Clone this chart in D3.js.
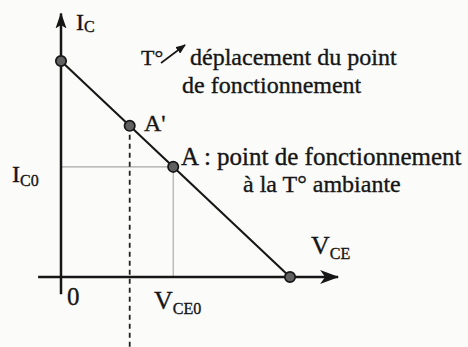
<!DOCTYPE html>
<html>
<head>
<meta charset="utf-8">
<script src="https://cdn.jsdelivr.net/npm/d3@7/dist/d3.min.js"></script>
<style>
  html, body { margin: 0; padding: 0; background: #fbfbfa; }
  svg { display: block; }
</style>
</head>
<body>
<svg id="chart" width="468" height="347"></svg>
<script>
// Load line of a transistor stage: I_C against V_CE (arbitrary units)
const loadLineVce = [0, 10];          // V_CE at the two ends of the load line
const loadLineIc = [10, 0];           // I_C at the two ends of the load line
const pointNames = ["A'", "A"];       // operating points
const pointVce = [3.0, 4.9];          // V_CE of each operating point
const pointIc = [7.0, 5.1];           // I_C of each operating point
const xAxisSpan = [-1.0, 12.1];       // drawn extent of the V_CE axis
const yAxisSpan = [-0.8, 12.2];       // drawn extent of the I_C axis
const tickLabels = ["0", "V", "CE0"]; // origin and V_CE0 labels

const W = 468, H = 347;
const FONT = "'Liberation Serif', 'Times New Roman', serif";
const INK = "#161616";
const svg = d3.select("#chart");

const x = d3.scaleLinear().domain([0, 10]).range([61, 290]);
const y = d3.scaleLinear().domain([0, 10]).range([277, 61]);

const defs = svg.append("defs");
// filled arrowhead for the I_C axis
defs.append("marker")
  .attr("id", "arrowY").attr("viewBox", "0 0 12 16")
  .attr("refX", 6).attr("refY", 1)
  .attr("markerWidth", 12).attr("markerHeight", 16)
  .attr("markerUnits", "userSpaceOnUse").attr("orient", "0")
  .append("path").attr("d", "M6,0 L11.5,16 L6,12.5 L0.5,16 Z").attr("fill", INK);
// stealth-style arrowhead for the V_CE axis
defs.append("marker")
  .attr("id", "arrowX").attr("viewBox", "0 0 19 14")
  .attr("refX", 18).attr("refY", 7)
  .attr("markerWidth", 19).attr("markerHeight", 14)
  .attr("markerUnits", "userSpaceOnUse").attr("orient", "auto")
  .append("path").attr("d", "M0,0 L19,7 L0,14 L5,7 Z").attr("fill", INK);
// small arrow used inside the temperature note
defs.append("marker")
  .attr("id", "arrowT").attr("viewBox", "0 0 10 8")
  .attr("refX", 9).attr("refY", 4)
  .attr("markerWidth", 10).attr("markerHeight", 8)
  .attr("markerUnits", "userSpaceOnUse").attr("orient", "auto")
  .append("path").attr("d", "M0,0 L10,4 L0,8 Z").attr("fill", INK);

// guide lines from A to both axes
const iA = pointNames.indexOf("A");
svg.append("path")
  .attr("d", `M${x(0)},${y(pointIc[iA])} H${x(pointVce[iA])} V${y(0)}`)
  .attr("fill", "none").attr("stroke", "#a8a8a8").attr("stroke-width", 1.1);

// dashed vertical line through A'
const iA2 = pointNames.indexOf("A'");
svg.append("line")
  .attr("x1", x(pointVce[iA2])).attr("x2", x(pointVce[iA2]))
  .attr("y1", y(pointIc[iA2])).attr("y2", H)
  .attr("stroke", "#222").attr("stroke-width", 1.8)
  .attr("stroke-dasharray", "5,4");

// axes
svg.append("line")
  .attr("x1", x(0)).attr("x2", x(0))
  .attr("y1", y(yAxisSpan[0])).attr("y2", y(yAxisSpan[1]))
  .attr("stroke", INK).attr("stroke-width", 2.5)
  .attr("marker-end", "url(#arrowY)");
svg.append("line")
  .attr("x1", x(xAxisSpan[0])).attr("x2", x(xAxisSpan[1]))
  .attr("y1", y(0)).attr("y2", y(0))
  .attr("stroke", INK).attr("stroke-width", 2.5)
  .attr("marker-end", "url(#arrowX)");

// load line
const line = d3.line().x(d => x(d[0])).y(d => y(d[1]));
const loadPts = loadLineVce.map((v, i) => [v, loadLineIc[i]]);
svg.append("path")
  .attr("d", line(loadPts))
  .attr("fill", "none").attr("stroke", INK).attr("stroke-width", 2.1);

// points: load line ends and operating points
const allPts = loadPts.concat(pointVce.map((v, i) => [v, pointIc[i]]));
svg.selectAll("circle.pt").data(allPts).join("circle")
  .attr("class", "pt")
  .attr("cx", d => x(d[0])).attr("cy", d => y(d[1]))
  .attr("r", 5.2)
  .attr("fill", "#606060").attr("stroke", INK).attr("stroke-width", 1.7);

// text helper: main text with an optional subscript (slightly heavy ink)
function label(px, py, size, main, sub, subSize, subDy) {
  const t = svg.append("text")
    .attr("x", px).attr("y", py)
    .attr("font-family", FONT).attr("font-size", size)
    .attr("fill", INK).attr("stroke", INK).attr("stroke-width", 0.35);
  t.append("tspan").text(main);
  if (sub) {
    t.append("tspan").attr("dy", subDy).attr("font-size", subSize).text(sub);
  }
  return t;
}

// axis titles
label(76, 30, 24, "I", "C", 16, 2);
label(311, 254, 26, "V", "CE", 16, 5);

// I_C0 label
label(12, 182, 24, "I", "C0", 16, 4);

// origin and V_CE0 labels
label(67, 305, 25, tickLabels[0]);
label(154, 309, 26, tickLabels[1], tickLabels[2], 16, 5);

// point labels
label(144, 131, 24, "A'");
label(181, 165, 25, "A : point de fonctionnement");
label(243, 192, 24, "à la T° ambiante");

// temperature note
label(141, 65, 22, "T°");
svg.append("line")
  .attr("x1", 161).attr("y1", 63).attr("x2", 185).attr("y2", 45)
  .attr("stroke", INK).attr("stroke-width", 1.6)
  .attr("marker-end", "url(#arrowT)");
label(190, 65, 24, "déplacement du point");
label(182, 93, 24, "de fonctionnement");
</script>
</body>
</html>
